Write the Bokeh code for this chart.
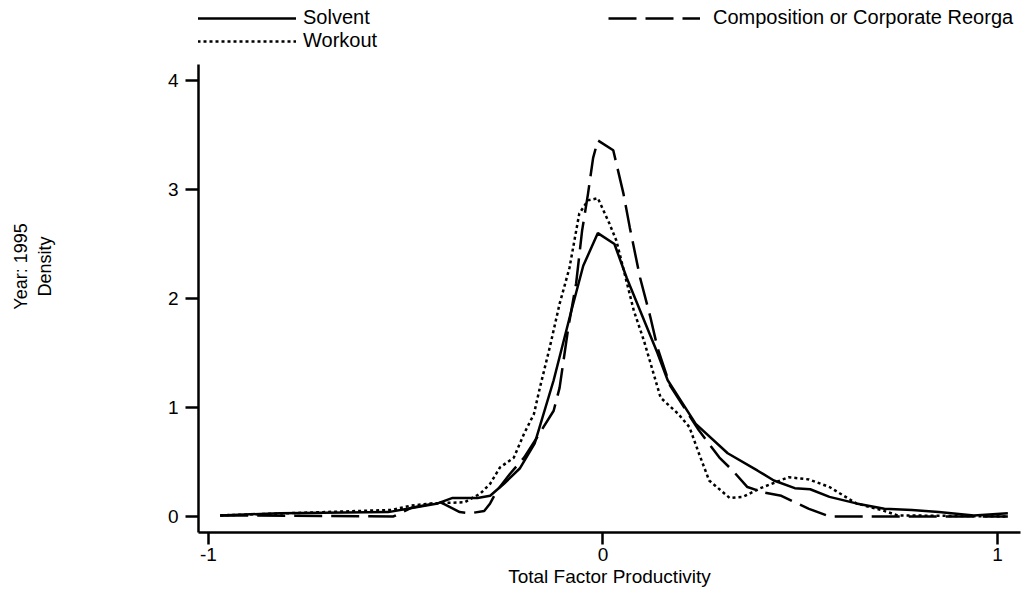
from bokeh.plotting import figure
from bokeh.models import Legend, LegendItem, FixedTicker, Range1d
from bokeh.embed import file_html
from bokeh.resources import INLINE

# ---- data ----
solvent_x = [-0.970, -0.820, -0.544, -0.481, -0.419, -0.381, -0.318, -0.286, -0.251, -0.211,
             -0.173, -0.125, -0.080, -0.050, -0.013, 0.029, 0.060, 0.138, 0.164, 0.235,
             0.316, 0.392, 0.433, 0.486, 0.525, 0.574, 0.642, 0.713, 0.783, 0.851, 0.940, 1.026]
solvent_y = [0.01, 0.03, 0.04, 0.08, 0.12, 0.17, 0.17, 0.19, 0.30, 0.44,
             0.67, 1.25, 1.89, 2.30, 2.60, 2.50, 2.19, 1.50, 1.25, 0.85,
             0.58, 0.42, 0.33, 0.26, 0.25, 0.18, 0.12, 0.07, 0.06, 0.04, 0.01, 0.03]

comp_x = [-0.970, -0.531, -0.486, -0.411, -0.363, -0.336, -0.301, -0.286, -0.268, -0.236,
          -0.200, -0.168, -0.125, -0.110, -0.088, -0.068, -0.053, -0.038, -0.025, -0.013,
          0.026, 0.052, 0.068, 0.094, 0.120, 0.138, 0.170, 0.243, 0.295, 0.329, 0.366,
          0.407, 0.452, 0.486, 0.522, 0.574, 1.026]
comp_y = [0.01, 0.00, 0.08, 0.13, 0.04, 0.03, 0.05, 0.12, 0.24, 0.39,
          0.54, 0.72, 0.97, 1.18, 1.73, 2.14, 2.62, 2.96, 3.29, 3.45,
          3.36, 2.96, 2.65, 2.19, 1.83, 1.55, 1.20, 0.79, 0.54, 0.42, 0.27,
          0.22, 0.19, 0.13, 0.07, 0.00, 0.00]

workout_x = [-0.970, -0.536, -0.486, -0.436, -0.351, -0.311, -0.286, -0.261, -0.226, -0.200,
             -0.175, -0.160, -0.135, -0.110, -0.085, -0.060, -0.038, -0.013, 0.016, 0.034,
             0.078, 0.104, 0.146, 0.191, 0.219, 0.243, 0.269, 0.321, 0.355, 0.399, 0.470,
             0.522, 0.574, 0.642, 0.705, 0.747, 1.026]
workout_y = [0.01, 0.06, 0.10, 0.12, 0.13, 0.21, 0.30, 0.45, 0.54, 0.76,
             0.94, 1.18, 1.55, 1.95, 2.28, 2.78, 2.90, 2.92, 2.69, 2.53,
             1.89, 1.61, 1.09, 0.94, 0.82, 0.58, 0.33, 0.17, 0.18, 0.26, 0.36,
             0.34, 0.27, 0.12, 0.06, 0.01, 0.00]

x_ticks = [-1, 0, 1]
x_tick_labels = {-1: "-1", 0: "0", 1: "1"}
y_ticks = [0, 1, 2, 3, 4]
series_names = ["Solvent", "Workout", "Composition or Corporate Reorga"]
x_title = "Total Factor Productivity"
y_title = "Year: 1995\nDensity"

FONT = "Liberation Sans"

# frame spans from the canvas top (room for the legend) down to the x axis
p = figure(width=1029, height=591, output_backend="svg", toolbar_location=None, title=None,
           x_range=Range1d(-1.025, 1.058), y_range=Range1d(-0.147, 4.734),
           min_border_left=198, min_border_right=9, min_border_top=0, min_border_bottom=59)
p.outline_line_color = None
p.xgrid.visible = False
p.ygrid.visible = False

r_solv = p.line(solvent_x, solvent_y, line_color="black", line_width=2.5)
r_work = p.line(workout_x, workout_y, line_color="black", line_width=2.5, line_dash="3 3")
r_comp = p.line(comp_x, comp_y, line_color="black", line_width=2.5, line_dash="28 9")

for ax in (p.xaxis[0], p.yaxis[0]):
    ax.axis_line_width = 2.5
    ax.axis_line_color = "black"
    ax.major_tick_line_width = 2.5
    ax.major_tick_line_color = "black"
    ax.minor_tick_line_color = None
    ax.major_tick_in = 0
    ax.major_label_text_font = FONT
    ax.major_label_text_font_size = "19px"
    ax.major_label_text_color = "black"
    ax.axis_label_text_font = FONT
    ax.axis_label_text_font_style = "normal"
    ax.axis_label_text_color = "black"

p.xaxis.ticker = FixedTicker(ticks=x_ticks)
p.xaxis.major_label_overrides = x_tick_labels
p.yaxis.ticker = FixedTicker(ticks=y_ticks)
p.yaxis.bounds = (-0.147, 4.147)
p.xaxis.major_tick_out = 12
p.yaxis.major_tick_out = 13
p.xaxis.major_label_standoff = 3
p.yaxis.major_label_standoff = 7
p.xaxis.axis_label = x_title
p.xaxis.axis_label_text_font_size = "19px"
p.xaxis.axis_label_standoff = 2
p.yaxis.axis_label = y_title
p.yaxis.axis_label_text_font_size = "18px"
p.yaxis.axis_label_standoff = 110


def make_legend(name, renderer, loc, glyph_w, standoff):
    lg = Legend(items=[LegendItem(label=name, renderers=[renderer])], location=loc)
    lg.padding = 0
    lg.margin = 0
    lg.spacing = 0
    lg.glyph_width = glyph_w
    lg.glyph_height = 20
    lg.label_height = 20
    lg.label_standoff = standoff
    lg.label_text_font = FONT
    lg.label_text_font_size = "20px"
    lg.label_text_color = "black"
    lg.background_fill_alpha = 0
    lg.border_line_color = None
    return lg


p.add_layout(make_legend(series_names[0], r_solv, (-1, 503), 99, 7))
p.add_layout(make_legend(series_names[1], r_work, (-1, 480), 99, 7))
p.add_layout(make_legend(series_names[2], r_comp, (410, 503), 92, 13))

open("out.html", "w").write(file_html(p, INLINE))
